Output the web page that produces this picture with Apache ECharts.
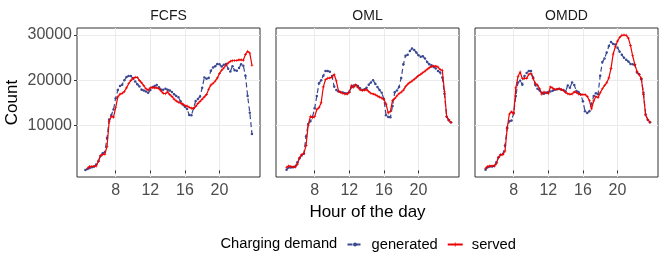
<!DOCTYPE html>
<html>
<head>
<meta charset="utf-8">
<script src="https://cdn.jsdelivr.net/npm/echarts@6/dist/echarts.min.js"></script>
<style>
html,body{margin:0;padding:0;background:#fff;}
#chart{width:664px;height:265px;}
</style>
</head>
<body>
<div id="chart"></div>
<script>
// ---- Data ----
const panels = ['FCFS', 'OML', 'OMDD'];
const hours = [4.5,4.75,5,5.25,5.5,5.75,6,6.25,6.5,6.75,7,7.25,7.5,7.75,8,
  8.25,8.5,8.75,9,9.25,9.5,9.75,10,10.25,10.5,10.75,11,11.25,11.5,11.75,12,
  12.25,12.5,12.75,13,13.25,13.5,13.75,14,14.25,14.5,14.75,15,15.25,15.5,15.75,16,
  16.25,16.5,16.75,17,17.25,17.5,17.75,18,18.25,18.5,18.75,19,19.25,19.5,19.75,20,
  20.25,20.5,20.75,21,21.25,21.5,21.75,22,22.25,22.5,22.75,23,23.25,23.5,23.75];
const xTicks = [8, 12, 16, 20];
const yTicks = [10000, 20000, 30000];

const fcfsGenerated = [100,300,550,700,900,1300,2100,3200,3800,4100,7200,11300,12300,13500,16000,
  17800,18700,19000,20000,20700,20900,20900,20400,19700,19100,18600,17900,17700,17500,17200,17800,
  18400,18700,18900,18400,17900,17900,18100,17900,17700,17400,16900,16500,16200,15300,14600,14100,
  13600,12300,12200,13800,15400,15800,16400,18300,20600,20300,20500,22100,22800,23100,23600,23500,
  23000,23400,23600,22500,21900,23100,22200,22100,22700,23500,23200,21000,16500,12800,8100];
const fcfsServed = [null,500,900,900,900,1000,2000,3300,3500,3600,5300,10900,12000,11800,13900,
  16300,16900,17100,17500,18300,19200,19900,20400,20650,20600,19950,19400,18800,18100,17800,18300,
  18400,18300,18300,18100,17600,17100,17000,17400,16800,16400,15800,15400,15100,14950,14700,14400,
  14250,14000,13800,13700,14200,14800,15300,15800,16300,16800,18000,18900,19300,19800,20500,21500,
  22200,22700,23300,23800,24200,24300,24350,24350,24500,24500,24400,25700,26400,26000,23300];

const omlGenerated = [null,150,650,650,700,900,1800,2700,3300,3700,7500,10300,10900,11900,13800,
  16500,19300,20000,21000,22000,22000,21850,20900,18600,17800,17500,17400,17250,17100,17050,17500,
  18400,18800,18850,18700,18200,17800,18000,18300,19000,19500,20000,19200,18500,17800,17200,15800,
  12200,11850,11800,14300,17300,17700,18500,20500,23500,25400,25600,26450,27000,26700,26100,25500,
  25200,25300,24800,24000,23500,23300,22900,22600,22050,21700,20600,17000,11900,11100,10700];
const omlServed = [null,700,1000,900,800,750,1400,2800,3500,3800,5500,10000,12000,11700,11900,
  13500,13900,15000,18500,20100,20400,20500,20650,21300,19800,17600,17300,17100,16950,16950,17300,
  18800,18450,19000,18400,17850,17700,17800,17900,17500,17100,16950,16750,16500,16250,16050,15700,
  14700,12750,13100,15500,15900,16500,17000,17350,17800,18550,19100,19500,19800,20200,20600,21000,
  21300,21650,22000,22400,22750,23000,23100,23100,22900,22350,22200,17500,12000,11200,10600];

const omddGenerated = [null,150,700,900,900,1000,1800,2900,3400,3650,5500,9500,10900,11050,12700,
  16500,19500,19850,19000,20900,21600,22000,22000,20600,18900,18100,17700,17200,17000,17200,17400,
  17500,17650,17850,18000,18050,17900,17800,17550,18800,18300,19500,18900,17600,17350,16800,15350,
  13100,12750,13100,14800,16500,17100,16900,21000,24000,24800,26100,27550,28450,28000,27900,27200,
  26300,25600,24950,24500,24150,23600,23500,23350,21700,21300,20200,17200,12400,11200,10650];
const omddServed = [null,500,900,1000,1000,1000,1500,2900,3500,3500,4300,9300,12500,13000,12500,
  18300,20800,21800,20300,20400,20400,21300,21500,20300,19300,18900,18100,16900,17350,17200,17000,
  18500,18250,17950,18000,18150,17950,17700,17250,17000,16850,16950,17400,17250,16950,16800,16800,
  16800,16400,15500,13600,15400,16400,16100,17200,18100,18800,19400,20500,22600,25800,27400,28650,
  29450,29950,30000,29950,29300,27700,25400,23500,21900,21200,20400,16800,12300,11300,10700];

const generatedByPanel = [fcfsGenerated, omlGenerated, omddGenerated];
const servedByPanel = [fcfsServed, omlServed, omddServed];

// ---- Chart ----
const BLUE = '#3B4992', RED = '#EE0000';
const FONT = 'Liberation Sans, Arial, Helvetica, sans-serif';
const gridLefts = [77, 276, 475];
const GW = 183, GT = 28, GH = 149;
const PLUS = 'path://M4,0H6V4H10V6H6V10H4V6H0V4H4Z';

const pair = arr => hours.map((h, i) => [h, arr[i]]);

const grids = [], xAxes = [], yAxes = [], series = [], graphics = [];
panels.forEach((name, i) => {
  grids.push({left: gridLefts[i], top: GT, width: GW, height: GH,
    show: true, borderColor: '#333333', borderWidth: 1, backgroundColor: '#fff', containLabel: false});
  xAxes.push({
    type: 'value', gridIndex: i, min: 3.53, max: 24.68,
    axisLine: {show: false},
    axisTick: {show: true, length: 3, customValues: xTicks, lineStyle: {color: '#333333'}},
    axisLabel: {show: true, customValues: xTicks, margin: 6, color: '#4D4D4D', fontSize: 16, fontFamily: FONT,
      formatter: v => String(v)},
    splitLine: {show: true, lineStyle: {color: '#EBEBEB', width: 1}},
    name: i === 1 ? 'Hour of the day' : '',
    nameLocation: 'middle', nameGap: 23,
    nameTextStyle: {color: '#000', fontSize: 17, fontFamily: FONT}
  });
  yAxes.push({
    type: 'value', gridIndex: i, min: -1450, max: 31550,
    axisLine: {show: false},
    axisTick: {show: i === 0, length: 3, customValues: yTicks, lineStyle: {color: '#333333'}},
    axisLabel: {show: i === 0, customValues: yTicks, margin: 5, color: '#4D4D4D', fontSize: 16, fontFamily: FONT,
      formatter: v => String(v)},
    splitLine: {show: true, lineStyle: {color: '#EBEBEB', width: 1}},
    name: i === 0 ? 'Count' : '',
    nameLocation: 'middle', nameGap: 56, nameRotate: 90,
    nameTextStyle: {color: '#000', fontSize: 17, fontFamily: FONT}
  });
  series.push({
    name: 'generated', type: 'line', xAxisIndex: i, yAxisIndex: i,
    data: pair(generatedByPanel[i]),
    showSymbol: true, symbol: 'circle', symbolSize: 2.5,
    itemStyle: {color: BLUE},
    lineStyle: {color: BLUE, width: 1.2, type: [5, 3]},
    animation: false, z: 2
  });
  series.push({
    name: 'served', type: 'line', xAxisIndex: i, yAxisIndex: i,
    data: pair(servedByPanel[i]),
    showSymbol: true, symbol: PLUS, symbolSize: 3,
    itemStyle: {color: RED},
    lineStyle: {color: RED, width: 1.2},
    animation: false, z: 3
  });
  graphics.push({
    type: 'text', x: gridLefts[i] + GW / 2, y: 16.5,
    style: {text: name, fill: '#1A1A1A', fontSize: 14, fontFamily: FONT,
      textAlign: 'center', textVerticalAlign: 'middle'}
  });
});
graphics.push({
  type: 'text', x: 220.5, y: 244,
  style: {text: 'Charging demand', fill: '#000', fontSize: 14.7, fontFamily: FONT,
    textAlign: 'left', textVerticalAlign: 'middle'}
});

const chart = echarts.init(document.getElementById('chart'), null, {renderer: 'canvas'});
chart.setOption({
  animation: false,
  backgroundColor: '#fff',
  grid: grids, xAxis: xAxes, yAxis: yAxes, series: series,
  graphic: graphics,
  legend: {
    data: ['generated', 'served'],
    left: 346.5, top: 237, padding: 0, itemWidth: 15, itemHeight: 5, itemGap: 9,
    formatter: n => ' ' + n,
    textStyle: {color: '#000', fontSize: 14.7, fontFamily: FONT},
    inactiveColor: '#ccc'
  }
});
</script>
</body>
</html>
